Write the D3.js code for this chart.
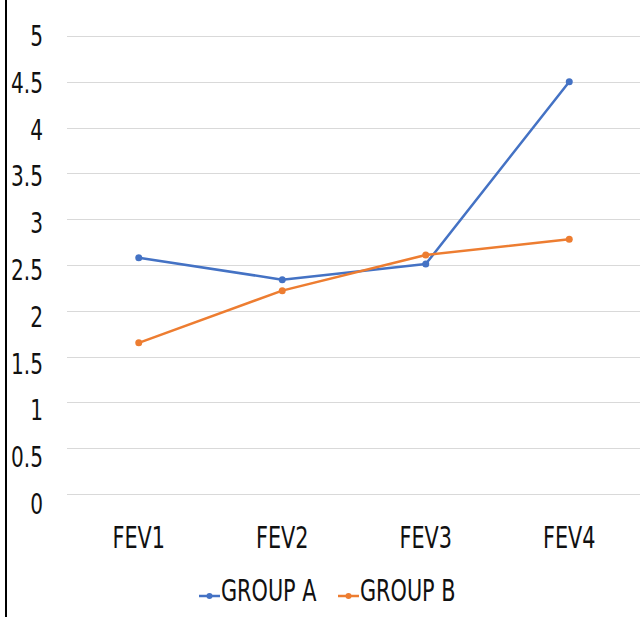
<!DOCTYPE html>
<html>
<head>
<meta charset="utf-8">
<script src="https://cdn.jsdelivr.net/npm/d3@7"></script>
<style>
  html, body { margin: 0; padding: 0; background: #fff; }
  svg text { font-family: "DejaVu Sans Condensed", "DejaVu Sans", sans-serif; fill: #111; }
</style>
</head>
<body>
<svg id="chart" width="643" height="617"></svg>
<script>
const categories = ["FEV1", "FEV2", "FEV3", "FEV4"];
const groupA = [2.58, 2.34, 2.51, 4.50];
const groupB = [1.65, 2.22, 2.61, 2.78];
const seriesNames = ["GROUP A", "GROUP B"];
const yTicks = [0, 0.5, 1, 1.5, 2, 2.5, 3, 3.5, 4, 4.5, 5];

const colors = ["#4472C4", "#ED7D31"];
const narrow = "scale(0.77,1)";
const svg = d3.select("#chart");

const plot = { left: 67, right: 641, top: 36, bottom: 494 };

const x = d3.scaleBand().domain(categories).range([plot.left, plot.right]);
const y = d3.scaleLinear().domain([0, 5]).range([plot.bottom, plot.top]);
// tick labels sit on a slightly taller span than the gridlines
const yLabel = d3.scaleLinear().domain([0, 5]).range([503, 35]);

// outer frame edge on the left
svg.append("line")
  .attr("x1", 6).attr("x2", 6).attr("y1", 0).attr("y2", 617)
  .attr("stroke", "#000").attr("stroke-width", 2);

// horizontal gridlines
svg.append("g")
  .selectAll("line")
  .data(yTicks)
  .join("line")
  .attr("x1", plot.left).attr("x2", plot.right - 1)
  .attr("y1", d => Math.round(y(d)) + 0.5)
  .attr("y2", d => Math.round(y(d)) + 0.5)
  .attr("stroke", "#d9d9d9").attr("stroke-width", 1.2);

// y axis labels
const yAxis = d3.axisLeft(yLabel).tickValues(yTicks).tickSize(0).tickPadding(0)
  .tickFormat(d3.format("~g"));
const gy = svg.append("g").attr("transform", "translate(43,0)").call(yAxis);
gy.select(".domain").remove();
gy.selectAll("text")
  .attr("x", 0).attr("y", 0).attr("dy", "0.36em")
  .attr("font-size", 29)
  .attr("transform", narrow);

// x axis labels
const xAxis = d3.axisBottom(x).tickSize(0).tickPadding(0);
const gx = svg.append("g").attr("transform", "translate(0,548)").call(xAxis);
gx.select(".domain").remove();
gx.selectAll("text")
  .attr("x", 0).attr("y", 0).attr("dy", 0)
  .attr("font-size", 30)
  .attr("transform", narrow);

const line = d3.line()
  .x((d, i) => x(categories[i]) + x.bandwidth() / 2)
  .y(d => y(d));

[groupA, groupB].forEach((vals, si) => {
  const g = svg.append("g");
  g.append("path")
    .attr("d", line(vals))
    .attr("fill", "none")
    .attr("stroke", colors[si])
    .attr("stroke-width", 2.5)
    .attr("stroke-linejoin", "round");
  g.selectAll("circle")
    .data(vals)
    .join("circle")
    .attr("cx", (d, i) => x(categories[i]) + x.bandwidth() / 2)
    .attr("cy", d => y(d))
    .attr("r", 3.5)
    .attr("fill", colors[si]);
});

// legend
const legendX = [199, 338];
const legend = svg.append("g")
  .selectAll("g")
  .data(seriesNames)
  .join("g")
  .attr("transform", (d, i) => `translate(${legendX[i]},596)`);
legend.append("line")
  .attr("x1", 0).attr("x2", 21).attr("y1", 0).attr("y2", 0)
  .attr("stroke", (d, i) => colors[i]).attr("stroke-width", 2.5);
legend.append("circle")
  .attr("cx", 10.5).attr("cy", 0).attr("r", 3)
  .attr("fill", (d, i) => colors[i]);
legend.append("text")
  .attr("transform", "translate(22,5) " + narrow)
  .attr("font-size", 30)
  .text(d => d);
</script>
</body>
</html>
